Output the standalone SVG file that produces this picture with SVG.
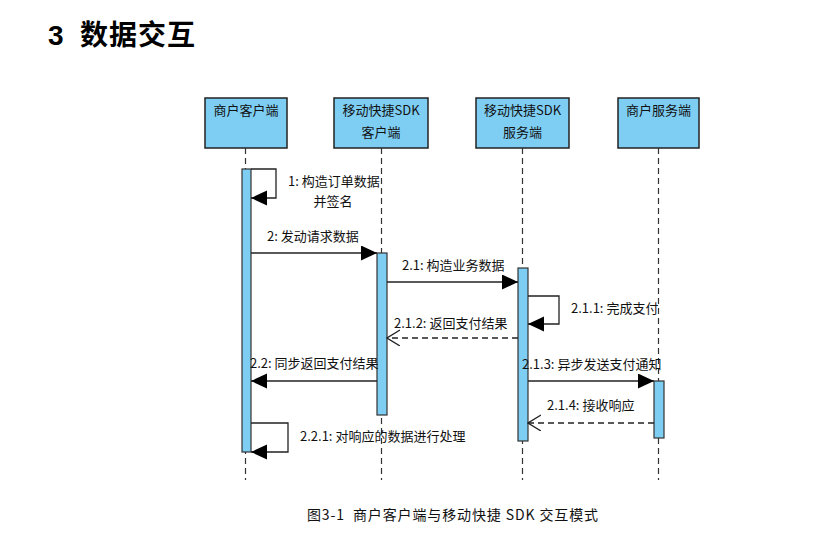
<svg xmlns="http://www.w3.org/2000/svg" width="832" height="533" viewBox="0 0 832 533">
<style>
.box{fill:#7ecef4;stroke:#222;stroke-width:1.5}
.act{fill:#7ecef4;stroke:#333;stroke-width:1.2}
.life{stroke:#333;stroke-width:1.2;stroke-dasharray:6 4;fill:none}
.msg{stroke:#222;stroke-width:1.3;fill:none}
.ret{stroke:#222;stroke-width:1.3;fill:none;stroke-dasharray:6 4}
.hd{font-family:"Noto Sans CJK SC","Liberation Sans",sans-serif;font-size:13px;fill:#111;text-anchor:middle}
.lb{font-family:"Noto Sans CJK SC","Liberation Sans",sans-serif;font-size:13px;fill:#111}
</style>
<defs>
<marker id="fill" markerUnits="userSpaceOnUse" markerWidth="17" markerHeight="16" refX="16" refY="7.5" orient="auto">
<path d="M0,0 L16,7.5 L0,15 z" fill="#000"/>
</marker>
<marker id="open" markerUnits="userSpaceOnUse" markerWidth="14" markerHeight="18" refX="13" refY="8" orient="auto">
<path d="M0,0 L13,8 L0,16" fill="none" stroke="#222" stroke-width="1.3"/>
</marker>
</defs>
<rect width="832" height="533" fill="#fff"/>
<g id="title">
<text x="48" y="45" font-family="Liberation Sans,sans-serif" font-weight="bold" font-size="28" fill="#000">3</text>
<text x="80" y="45" font-family="Noto Sans CJK SC,sans-serif" font-weight="bold" font-size="28" letter-spacing="1" fill="#000">数据交互</text>
</g>
<g id="merchant-client">
<rect class="box" x="205" y="98" width="82" height="50"/>
<text class="hd" x="246" y="115">商户客户端</text>
<line class="life" x1="245.5" y1="148" x2="245.5" y2="480"/>
<rect class="act" x="242" y="169" width="9" height="283"/>
</g>
<g id="sdk-client">
<rect class="box" x="334" y="98" width="94" height="50"/>
<text class="hd" x="381" y="115">移动快捷SDK</text>
<text class="hd" x="381" y="137">客户端</text>
<line class="life" x1="381.5" y1="148" x2="381.5" y2="480"/>
<rect class="act" x="377" y="253" width="10" height="162"/>
</g>
<g id="sdk-server">
<rect class="box" x="476" y="98" width="93" height="50"/>
<text class="hd" x="522.5" y="115">移动快捷SDK</text>
<text class="hd" x="522.5" y="137">服务端</text>
<line class="life" x1="522.5" y1="148" x2="522.5" y2="480"/>
<rect class="act" x="518" y="268" width="10" height="173"/>
</g>
<g id="merchant-server">
<rect class="box" x="618" y="98" width="81" height="50"/>
<text class="hd" x="658.5" y="115">商户服务端</text>
<line class="life" x1="658.5" y1="148" x2="658.5" y2="480"/>
<rect class="act" x="654" y="381" width="10" height="57"/>
</g>
<g id="connectors">
<path class="msg" d="M251,169 H276 V198 H251" marker-end="url(#fill)"/>
<path class="msg" d="M251,253 H377" marker-end="url(#fill)"/>
<path class="msg" d="M387,282 H518" marker-end="url(#fill)"/>
<path class="msg" d="M528,296 H559 V324 H528" marker-end="url(#fill)"/>
<path class="ret" d="M518,338 H387" marker-end="url(#open)"/>
<path class="msg" d="M377,381 H251" marker-end="url(#fill)"/>
<path class="msg" d="M528,381 H654" marker-end="url(#fill)"/>
<path class="ret" d="M654,423 H528" marker-end="url(#open)"/>
<path class="msg" d="M251,423 H288 V452 H251" marker-end="url(#fill)"/>
</g>
<g id="labels">
<text class="lb" x="288" y="186">1: 构造订单数据</text>
<text class="lb" x="333" y="206" text-anchor="middle">并签名</text>
<text class="lb" x="267" y="241">2: 发动请求数据</text>
<text class="lb" x="402" y="270">2.1: 构造业务数据</text>
<text class="lb" x="571" y="313">2.1.1: 完成支付</text>
<text class="lb" x="394" y="328">2.1.2: 返回支付结果</text>
<text class="lb" x="250" y="368">2.2: 同步返回支付结果</text>
<text class="lb" x="522" y="369">2.1.3: 异步发送支付通知</text>
<text class="lb" x="547" y="410">2.1.4: 接收响应</text>
<text class="lb" x="300" y="441">2.2.1: 对响应的数据进行处理</text>
</g>
<g id="caption">
<text x="307" y="520" font-family="Noto Sans CJK SC,Liberation Sans,sans-serif" font-size="14" fill="#111" textLength="291" lengthAdjust="spacing" xml:space="preserve">图3-1  商户客户端与移动快捷 SDK 交互模式</text>
</g>
</svg>
